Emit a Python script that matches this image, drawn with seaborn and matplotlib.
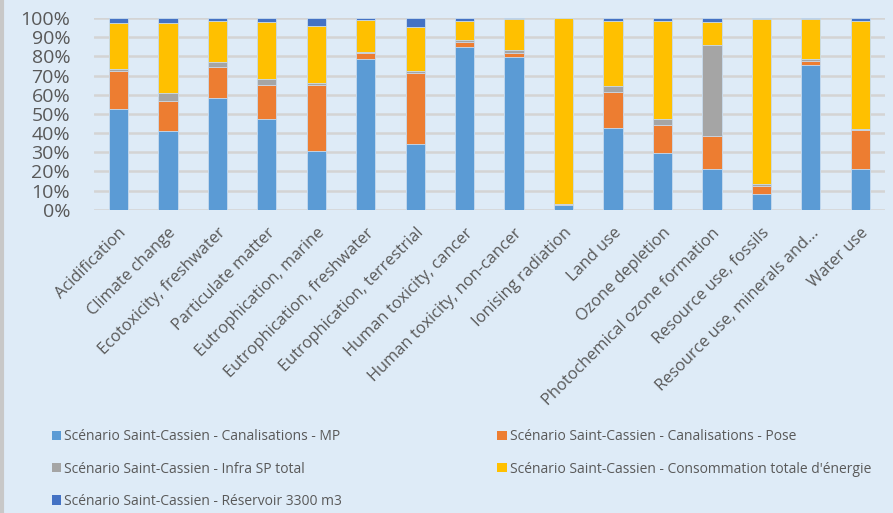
import matplotlib
matplotlib.use("Agg")
import matplotlib.pyplot as plt
import seaborn as sns
import pandas as pd
import numpy as np
from matplotlib.patches import Patch
from matplotlib.lines import Line2D

categories = ["Acidification", "Climate change", "Ecotoxicity, freshwater",
              "Particulate matter", "Eutrophication, marine", "Eutrophication, freshwater",
              "Eutrophication, terrestrial", "Human toxicity, cancer",
              "Human toxicity, non-cancer", "Ionising radiation", "Land use",
              "Ozone depletion", "Photochemical ozone formation", "Resource use, fossils",
              "Resource use, minerals and...", "Water use"]

series_names = ["Scénario Saint-Cassien - Canalisations - MP",
                "Scénario Saint-Cassien - Canalisations - Pose",
                "Scénario Saint-Cassien - Infra SP total",
                "Scénario Saint-Cassien - Consommation totale d'énergie",
                "Scénario Saint-Cassien - Réservoir 3300 m3"]

mp = [52.7, 40.9, 58.4, 47.3, 30.5, 78.7, 34.1, 84.9, 79.5, 2.6, 42.6, 29.8, 21.3, 8.3, 75.4, 21.5]
pose = [19.4, 15.9, 16.0, 17.5, 34.3, 2.8, 37.0, 2.8, 2.3, 0.2, 18.8, 14.6, 17.0, 4.2, 2.4, 19.9]
infra = [1.2, 4.2, 2.9, 3.5, 1.2, 0.8, 1.3, 1.0, 1.6, 0.2, 3.2, 2.9, 47.7, 1.2, 0.7, 0.9]
energie = [24.1, 36.2, 21.1, 29.4, 30.0, 16.8, 23.1, 9.9, 16.1, 96.8, 34.0, 51.3, 12.1, 85.8, 21.2, 56.3]
reservoir = [2.6, 2.8, 1.6, 2.3, 4.0, 0.9, 4.5, 1.4, 0.5, 0.2, 1.4, 1.4, 1.9, 0.5, 0.3, 1.4]

colors = ["#5B9BD5", "#ED7D31", "#A5A5A5", "#FFC000", "#4472C4"]
bg = "#DEEBF7"
ytick_labels = [f"{v}%" for v in range(0, 101, 10)]

sns.set_theme(style="white")
plt.rcParams["font.family"] = ["Open Sans", "DejaVu Sans"]

values = np.array([mp, pose, infra, energie, reservoir], dtype=float)
values = values / values.sum(axis=0) * 100.0
cum = np.cumsum(values, axis=0)

fig = plt.figure(figsize=(8.93, 5.13), dpi=100, facecolor=bg)
ax = fig.add_axes([0.105, 0.591, 0.886, 0.374])
ax.set_facecolor(bg)

# draw from the top of the stack downwards so lower segments overlay
for i in range(len(series_names) - 1, -1, -1):
    df = pd.DataFrame({"cat": categories, "val": cum[i]})
    sns.barplot(data=df, x="cat", y="val", color=colors[i], ax=ax,
                width=0.39, saturation=1, edgecolor="#C9DDF0", linewidth=0.6,
                zorder=2)

ax.set_xlim(-0.5, len(categories) - 0.5)
ax.set_ylim(0, 100)
ax.set_yticks(range(0, 101, 10))
ax.set_yticklabels(ytick_labels, fontsize=14, color="#595959")
ax.yaxis.grid(True, color="#D4D4D4", linewidth=1.8, zorder=0)
ax.xaxis.grid(False)
ax.set_axisbelow(True)
ax.tick_params(axis="y", length=0, pad=17)
ax.tick_params(axis="x", length=0, pad=11)
ax.set_xlabel("")
ax.set_ylabel("")
for s in ax.spines.values():
    s.set_visible(False)

ax.set_xticks(range(len(categories)))
ax.set_xticklabels(categories, rotation=45, ha="right", rotation_mode="anchor",
                   fontsize=11.8, color="#595959")

order = [0, 2, 4, 1, 3]
handles = [Patch(facecolor=colors[i], edgecolor="none") for i in order]
labels = [series_names[i] for i in order]
fig.legend(handles, labels, ncol=2, loc="lower left",
           bbox_to_anchor=(0.052, -0.003, 0.93, 0.2), mode="expand",
           frameon=False, fontsize=10, handlelength=0.65, handleheight=0.65,
           handletextpad=0.25, labelspacing=1.25, labelcolor="#595959",
           borderaxespad=0.0)

fig.add_artist(Line2D([0.002, 0.002], [0, 1], transform=fig.transFigure,
                      color="#C8C8C8", linewidth=3))

fig.savefig("out.png", dpi=100, facecolor=bg)
